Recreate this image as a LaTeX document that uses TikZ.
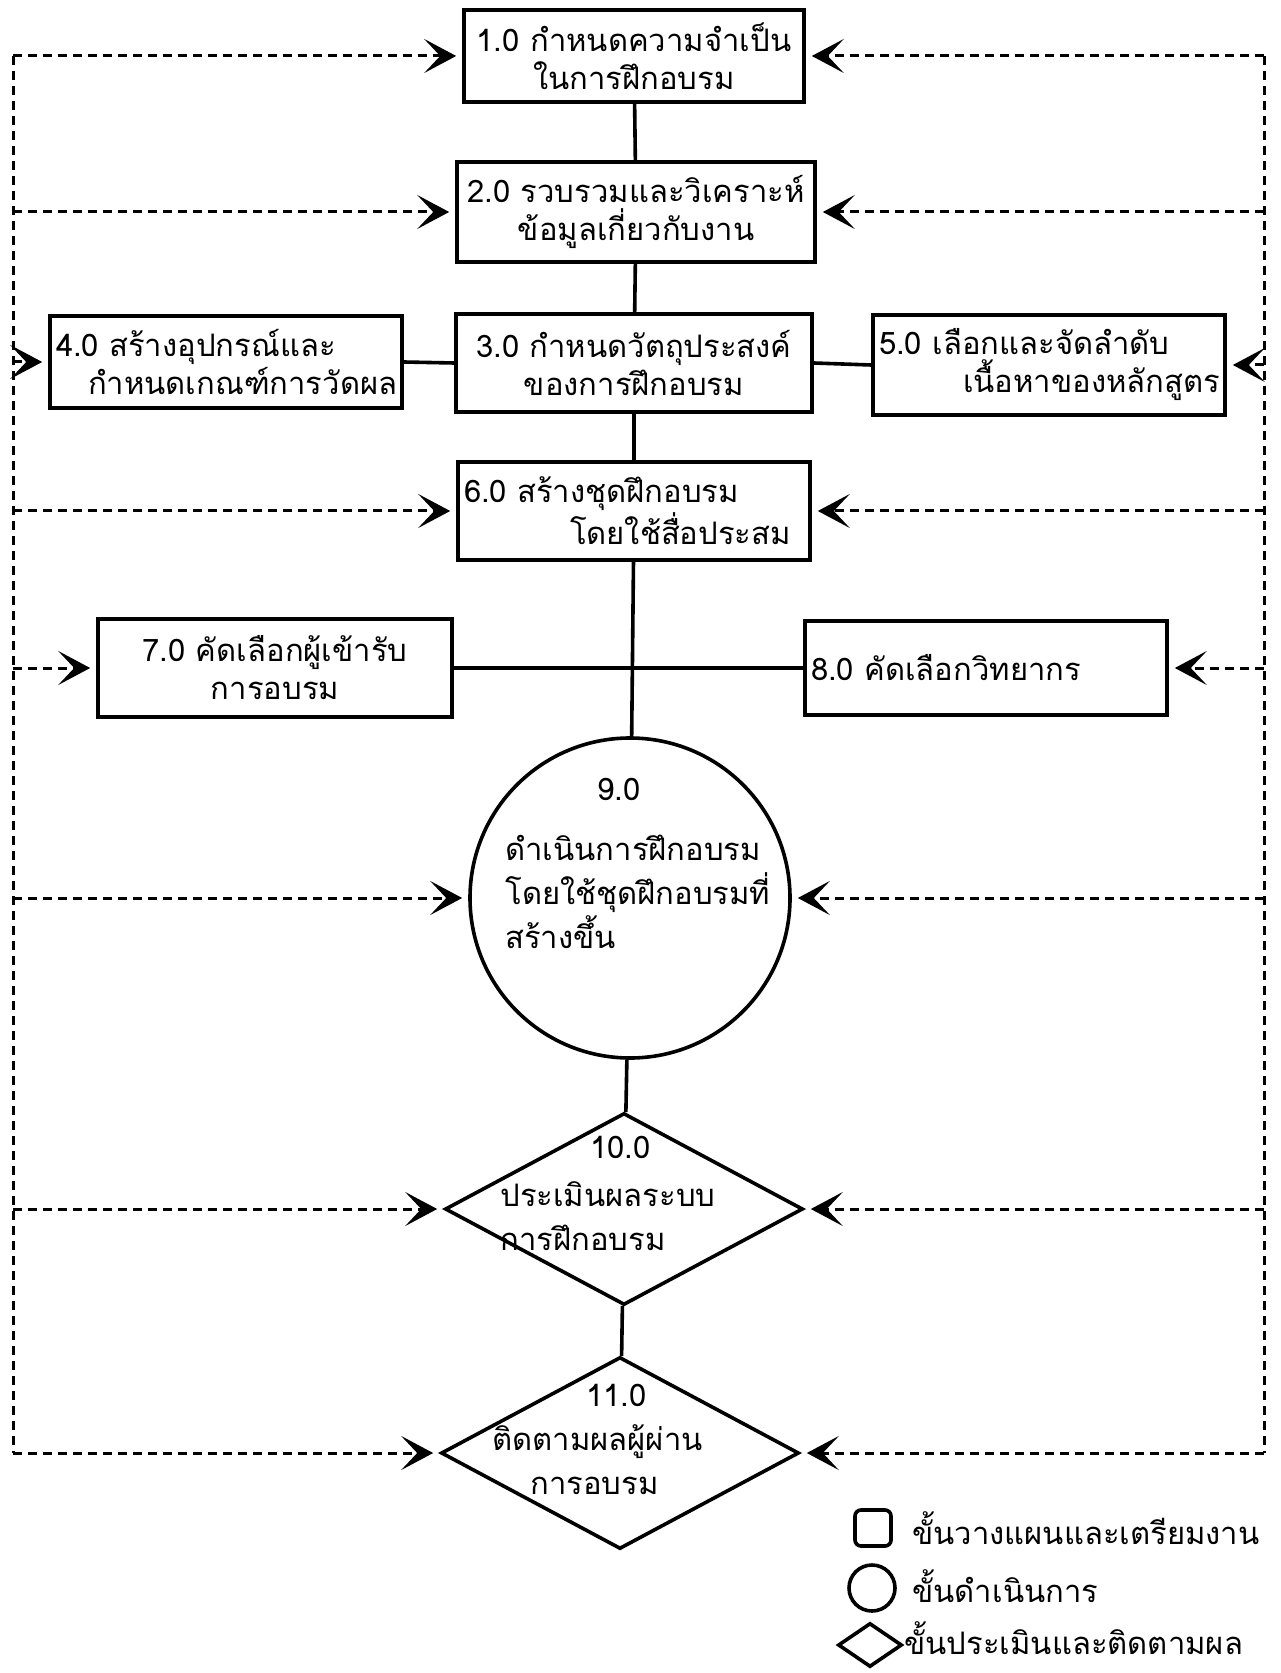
\documentclass[tikz,border=0pt]{standalone}
\usepackage{fontspec}
\newfontfamily\thaifont[Script=Thai]{Loma}
\usetikzlibrary{arrows.meta,shapes.geometric}
\tikzset{procbox/.style={draw, line width=1.8pt, inner xsep=3pt, inner ysep=0pt,
                         font=\thaifont\fontsize{15.5}{19}\selectfont}}
\tikzset{flowtext/.style={inner sep=0pt, align=left,
                          font=\thaifont\fontsize{15.5}{19}\selectfont}}

\begin{document}
\begin{tikzpicture}[x=0.5pt, y=-0.5pt,
      >={Stealth[length=16pt,width=17pt,inset=8pt]},
      % styles for the picture
      runshape/.style ={draw, circle, line width=1.8pt, minimum size=160pt, inner sep=0pt},
      evalshape/.style={draw, diamond, line width=1.8pt, minimum width=179pt,
                        minimum height=96pt, inner sep=0pt},
      feed/.style     ={dash pattern=on 4.5pt off 3pt, line width=1.5pt},
      trunk/.style    ={line width=1.8pt},
      widetext/.style ={flowtext, font=\thaifont\fontsize{15.5}{22}\selectfont}
    ]
    \useasboundingbox (0,0) rectangle (1280,1673);

    % planning boxes
    \node[procbox, minimum width=170pt, minimum height=46pt, align=center] (b1) at (634,56)
      {1.0~กำหนดความจำเป็น\\ในการฝึกอบรม};
    \node[procbox, minimum width=179pt, minimum height=50pt, align=center] (b2) at (636,212)
      {2.0~รวบรวมและวิเคราะห์\\ข้อมูลเกี่ยวกับงาน};
    \node[procbox, minimum width=178pt, minimum height=49pt, align=center] (b3) at (634,363)
      {3.0~กำหนดวัตถุประสงค์\\ของการฝึกอบรม};
    \node[procbox, text width=170pt, minimum height=46pt, align=left] (b4) at (226,362)
      {4.0~สร้างอุปกรณ์และ\\\hspace*{16pt}กำหนดเกณฑ์การวัดผล};
    \node[procbox, text width=170pt, minimum height=50pt, align=left] (b5) at (1049,365)
      {5.0~เลือกและจัดลำดับ\\\hspace*{42pt}เนื้อหาของหลักสูตร};
    \node[procbox, text width=170pt, minimum height=49pt, align=left] (b6) at (634,511)
      {6.0~สร้างชุดฝึกอบรม\\\hspace*{53pt}โดยใช้สื่อประสม};
    \node[procbox, minimum width=177pt, minimum height=49pt, align=center] (b7) at (275,668)
      {7.0~คัดเลือกผู้เข้ารับ\\การอบรม};
    \node[procbox, text width=175pt, minimum height=47pt, align=left] (b8) at (986,668)
      {8.0~คัดเลือกวิทยากร};

    % running and evaluation
    \node[runshape]  (c9)  at (630,898) {};
    \node[evalshape] (d10) at (624,1209) {};
    \node[evalshape] (d11) at (620,1453) {};
    \node[widetext, anchor=north west] (t9) at (505,778)
      {\hspace*{46pt}9.0\\[8pt]ดำเนินการฝึกอบรม\\โดยใช้ชุดฝึกอบรมที่\\สร้างขึ้น};
    \node[widetext, anchor=north west] (t10) at (500,1136)
      {\hspace*{45pt}10.0\\[2pt]ประเมินผลระบบ\\การฝึกอบรม};
    \node[widetext, anchor=north west] (t11) at (492,1384)
      {\hspace*{47pt}11.0\\ติดตามผลผู้ผ่าน\\\hspace*{19pt}การอบรม};

    % solid links
    \draw[trunk] (b1) -- (b2);
    \draw[trunk] (b2) -- (b3);
    \draw[trunk] (b3) -- (b6);
    \draw[trunk] (b6) -- (c9);
    \draw[trunk] (c9) -- (d10);
    \draw[trunk] (d10) -- (d11);
    \draw[trunk] (b4.east) -- (b3.west);
    \draw[trunk] (b3.east) -- (b5.west);
    \draw[trunk] (b7.east) -- (b8.west);

    % dashed feedback frame
    \coordinate (lx) at (13,0);
    \coordinate (rx) at (1264,0);
    \draw[feed] (b1.west -| lx) -- (d11.west -| lx);
    \draw[feed] (b1.east -| rx) -- (d11.east -| rx);
    \foreach \n in {b1,b2,b4,b6,b7,c9,d10,d11}
      \draw[feed, ->, shorten >=3pt] (\n.west -| lx) -- (\n.west);
    \foreach \n in {b1,b2,b5,b6,b8,c9,d10,d11}
      \draw[feed, ->, shorten >=3pt] (\n.east -| rx) -- (\n.east);

    % key
    \node[draw, rounded corners=3pt, line width=1.8pt, minimum size=18pt, inner sep=0pt] (k1) at (873,1528) {};
    \node[draw, circle, line width=1.8pt, minimum size=23pt, inner sep=0pt] (k2) at (872,1588) {};
    \node[draw, diamond, line width=1.8pt, minimum width=32pt, minimum height=22pt, inner sep=0pt] (k3) at (870,1645) {};
    \node[flowtext, anchor=west] (k1t) at (912,1528) {ขั้นวางแผนและเตรียมงาน};
    \node[flowtext, anchor=west] (k2t) at (912,1586) {ขั้นดำเนินการ};
    \node[flowtext, anchor=west] (k3t) at (904,1638) {ขั้นประเมินและติดตามผล};
  \end{tikzpicture}
\end{document}
